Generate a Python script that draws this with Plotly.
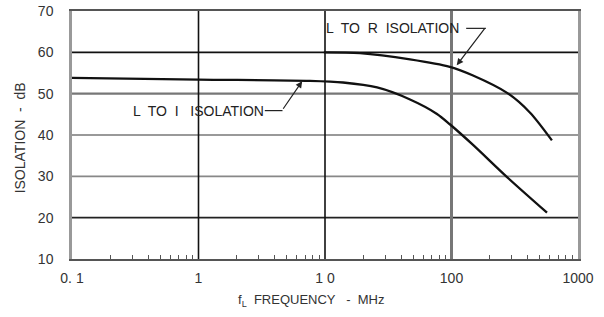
import plotly.graph_objects as go
import math

# Data
freq_li = [0.1, 1, 7.6, 13.9, 25.8, 47, 76.8, 97, 148, 275, 569]
iso_li = [53.8, 53.4, 53.1, 52.7, 51.5, 48.6, 45.1, 42.6, 37.6, 29.8, 21.2]

freq_lr = [9.8, 18.9, 47, 97, 148, 275, 418, 622]
iso_lr = [60.0, 59.8, 58.3, 56.5, 54.4, 50.2, 45.4, 38.7]

x_tickvals = [0.1, 1, 10, 100, 1000]
x_ticktext = ["0. 1", "1", "1 0", "100", "1000"]
x_minor = [m * d for d in [0.1, 1, 10, 100] for m in range(2, 10)]
y_tickvals = [10, 20, 30, 40, 50, 60, 70]
y_ticktext = ["10", "20", "30", "40", "50", "60", "70"]
v_grid = {1: ("#111", 1.6), 10: ("#111", 1.6), 100: ("#777", 3)}
h_grid = {20: ("#222", 1.6), 30: ("#888", 1.6), 40: ("#777", 1.6), 50: ("#777", 2.2), 60: ("#111", 1.6)}

FONT = "Liberation Sans Narrow, Arial Narrow, sans-serif"
FONT_W = "Liberation Sans, Arial, sans-serif"
TXT = "#333"

fig = go.Figure()
for fx, fy in [(freq_li, iso_li), (freq_lr, iso_lr)]:
    fig.add_trace(go.Scatter(x=fx, y=fy, mode="lines",
                             line=dict(color="#111", width=2.3, shape="spline", smoothing=0.8),
                             showlegend=False, hoverinfo="skip"))

for yv, (c, w) in h_grid.items():
    fig.add_shape(type="line", xref="paper", yref="y", x0=0, x1=1, y0=yv, y1=yv,
                  line=dict(color=c, width=w), layer="below")
for xv, (c, w) in v_grid.items():
    fig.add_shape(type="line", xref="x", yref="paper", x0=xv, x1=xv, y0=0, y1=1,
                  line=dict(color=c, width=w), layer="below")

fig.update_xaxes(type="log", range=[-1, 3], tickvals=x_tickvals, ticktext=x_ticktext,
                 showgrid=False, automargin=False,
                 showline=True, linecolor="#555", linewidth=1.5, mirror=True,
                 ticks="", zeroline=False, ticklabelstandoff=5,
                 minor=dict(tickvals=x_minor, ticks="inside", ticklen=4, tickwidth=1.2,
                            tickcolor="#555", showgrid=False),
                 tickfont=dict(family=FONT, size=14, color=TXT))
fig.update_yaxes(range=[10, 70], tickvals=y_tickvals, ticktext=y_ticktext,
                 showgrid=False, zeroline=False, automargin=False,
                 showline=True, linecolor="#999", linewidth=2.5, mirror=True,
                 ticks="", ticklabelstandoff=13,
                 tickfont=dict(family=FONT, size=14, color=TXT))

# axis titles
fig.add_annotation(xref="paper", yref="paper", x=-0.101, y=0.49, text="ISOLATION  -  dB",
                   textangle=-90, showarrow=False, xanchor="center", yanchor="middle",
                   font=dict(family=FONT, size=14, color=TXT))
fig.add_annotation(xref="paper", yref="paper", x=0.472, y=-0.169,
                   text="f<sub>L</sub>  FREQUENCY   -  MHz", showarrow=False,
                   xanchor="center", yanchor="middle",
                   font=dict(family=FONT_W, size=13, color=TXT))

afont = dict(family=FONT, size=14, color="#222")
# L to I label and leader
fig.add_annotation(x=math.log10(1.0), y=45.9, xref="x", yref="y", text="L  TO  I   ISOLATION",
                   showarrow=False, font=afont, xanchor="center", yanchor="middle")
fig.add_annotation(x=math.log10(6.6), y=53.0, xref="x", yref="y", text="",
                   showarrow=True, arrowhead=2, arrowsize=1.1, arrowwidth=1.2,
                   arrowcolor="#222", ax=-20, ay=29)
fig.add_shape(type="line", xref="paper", yref="y", x0=0.381, x1=0.416, y0=45.9, y1=45.9,
              line=dict(color="#222", width=1.2))
# L to R label and leader
fig.add_annotation(x=math.log10(34), y=65.8, xref="x", yref="y", text="L  TO  R  ISOLATION",
                   showarrow=False, font=afont, xanchor="center", yanchor="middle")
fig.add_annotation(x=math.log10(110), y=56.9, xref="x", yref="y", text="",
                   showarrow=True, arrowhead=2, arrowsize=1.1, arrowwidth=1.2,
                   arrowcolor="#222", ax=29, ay=-38)
fig.add_shape(type="line", xref="paper", yref="y", x0=0.779, x1=0.818, y0=65.8, y1=65.8,
              line=dict(color="#222", width=1.2))

fig.update_layout(width=604, height=317, margin=dict(l=72, r=26, t=11, b=58),
                  paper_bgcolor="white", plot_bgcolor="white",
                  font=dict(family=FONT, color=TXT))

fig.write_html("out.html", config={"displayModeBar": False},
               post_script="document.body.style.margin='0px';")
